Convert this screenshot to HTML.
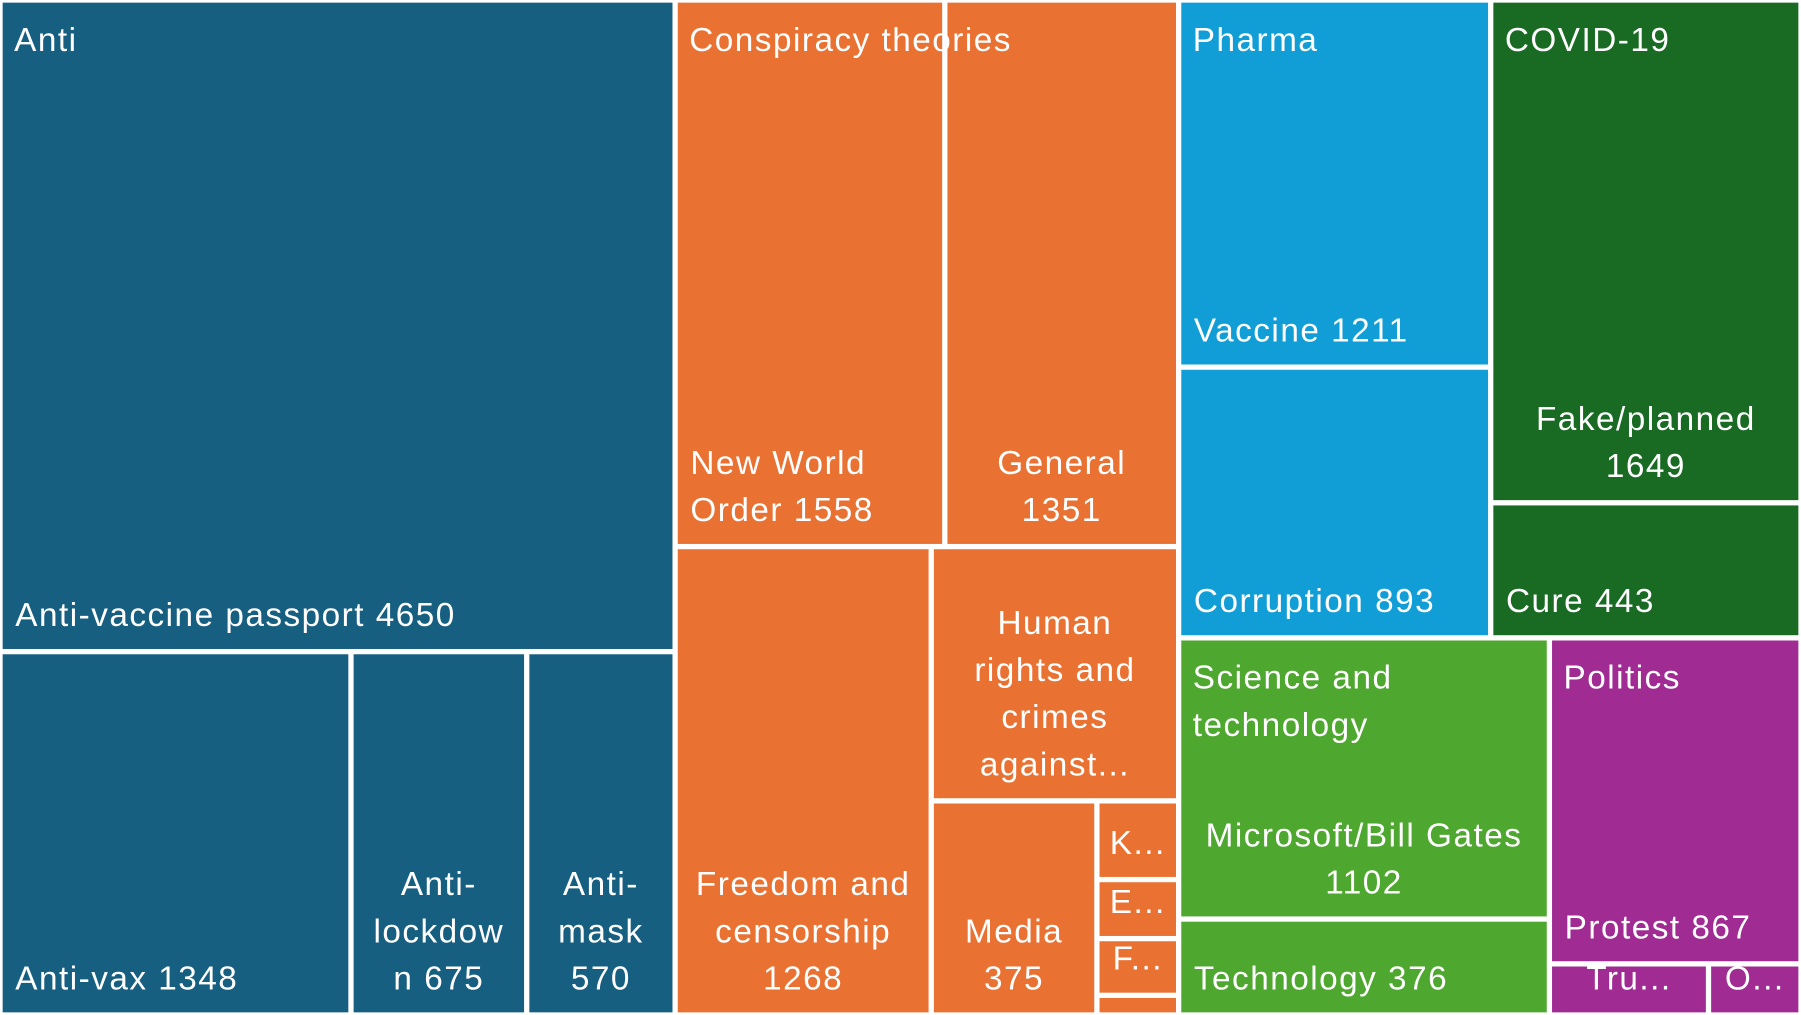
<!DOCTYPE html>
<html><head><meta charset="utf-8"><style>
html,body{margin:0;padding:0;background:#fff;}
svg{display:block;}
text{font-family:"Liberation Sans",sans-serif;font-size:29px;letter-spacing:1.3px;fill:#fff;}
</style></head><body>
<svg id="chart" width="1801" height="1015" viewBox="0 0 1568 884" preserveAspectRatio="none"></svg>
<script>
const names = ["Anti-vaccine passport","Anti-vax","Anti-lockdown","Anti-mask","New World Order","General","Freedom and censorship","Human rights and crimes against...","Media","K...","E...","F...","","Vaccine","Corruption","Fake/planned","Cure","Microsoft/Bill Gates","Technology","Protest","Tru...","O..."];
const values = [4650,1348,675,570,1558,1351,1268,665,375,68,51,49,17,1211,893,1649,443,1102,376,867,86,50];
const groups = [0,0,0,0,1,1,1,1,1,1,1,1,1,2,2,3,3,4,4,5,5,5];
const groupNames = ["Anti","Conspiracy theories","Pharma","COVID-19","Science and technology","Politics"];
const groupColors = ["#175f80","#e97132","#119ed6","#196b24","#4ea72e","#a02b93"];
const labelLines = [["Anti-vaccine passport 4650"],["Anti-vax 1348"],["Anti-","lockdow","n 675"],["Anti-","mask","570"],["New World","Order 1558"],["General","1351"],["Freedom and","censorship","1268"],["Human","rights and","crimes","against..."],["Media","375"],["K..."],["E..."],["F..."],[],["Vaccine 1211"],["Corruption 893"],["Fake/planned","1649"],["Cure 443"],["Microsoft/Bill Gates","1102"],["Technology 376"],["Protest 867"],["Tru..."],["O..."]];
const labelAlign = ["l","l","c","c","l","c","c","c","c","c","c","c","c","l","l","c","l","c","l","l","c","c"];
const headerLines = [["Anti"],["Conspiracy theories"],["Pharma"],["COVID-19"],["Science and","technology"],["Politics"]];
const tree = ["H",[
  ["V",[0,["H",[1,2,3]]]],
  ["V",[["H",[4,5]],["H",[6,["V",[7,["H",[8,["V",[9,10,11,12]]]]]]]]]],
  ["V",[["H",[["V",[13,14]],["V",[15,16]]]],["H",[["V",[17,18]],["V",[19,["H",[20,21]]]]]]]]
]];
const svg=document.getElementById('chart');
const NS="http://www.w3.org/2000/svg";
const rects=[];
function sum(n){return typeof n==="number"?values[n]:n[1].reduce((a,c)=>a+sum(c),0);}
function layout(n,x,y,w,h){
  if(typeof n==="number"){rects[n]=[x,y,w,h];return;}
  const t=sum(n);let o=0;
  n[1].forEach(c=>{const f=sum(c)/t;
    if(n[0]==="H")layout(c,x+o*w,y,f*w,h);else layout(c,x,y+o*h,w,f*h);
    o+=f;});
}
layout(tree,0,0,1568,884);
const G=2.3;
function txt(s,x,y,anchor,name){
  const t=document.createElementNS(NS,"text");
  t.setAttribute('x',x);t.setAttribute('y',y);t.setAttribute('text-anchor',anchor);
  t.textContent=s;
  
  
  svg.appendChild(t);
}
rects.forEach((r,i)=>{
  const [x,y,w,h]=r;
  const el=document.createElementNS(NS,"rect");
  el.setAttribute('x',x+G);el.setAttribute('y',y+G);
  el.setAttribute('width',Math.max(0,w-2*G));el.setAttribute('height',Math.max(0,h-2*G));
  el.setAttribute('fill',groupColors[groups[i]]);
  
  
  svg.appendChild(el);
});
rects.forEach((r,i)=>{
  const [x,y,w,h]=r;const lines=labelLines[i];const n=lines.length;
  lines.forEach((s,k)=>{
    const by=y+h-G-20-(n-1-k)*41;
    if(labelAlign[i]==="l")txt(s,x+G+11,by,"start",'tile-label');
    else txt(s,x+w/2,by,"middle",'tile-label');
  });
});
groupNames.forEach((g,gi)=>{
  let mx=1e9,my=1e9;
  rects.forEach((r,i)=>{if(groups[i]===gi){mx=Math.min(mx,r[0]);my=Math.min(my,r[1]);}});
  headerLines[gi].forEach((s,k)=>txt(s,mx+G+10,my+G+42+k*41,"start",'group-header'));
});
</script>
</body></html>
